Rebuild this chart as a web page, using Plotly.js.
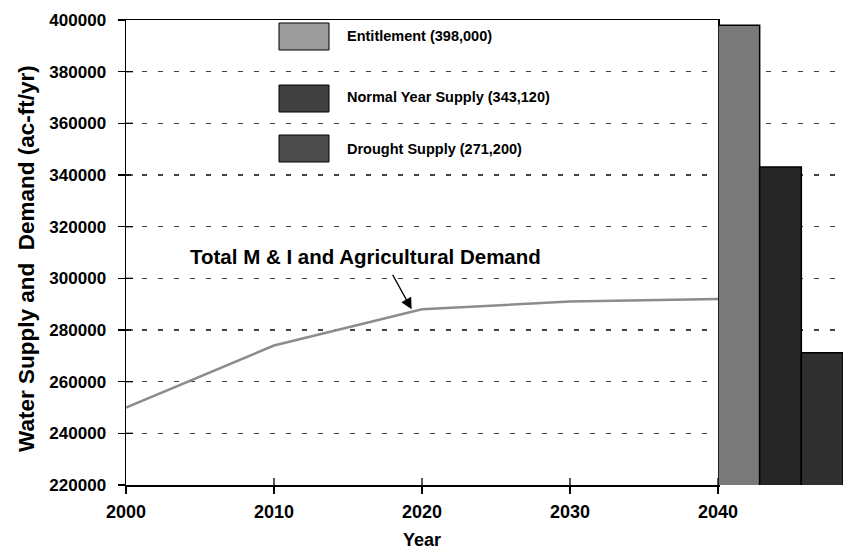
<!DOCTYPE html>
<html>
<head>
<meta charset="utf-8">
<script src="https://cdn.plot.ly/plotly-3.0.1.min.js"></script>
<style>
  html, body { margin: 0; padding: 0; background: #fff; }
  #chart { width: 843px; height: 552px; }
</style>
</head>
<body>
<div id="chart"></div>
<script>
// Demand projection (ac-ft/yr)
const years = [2000, 2010, 2020, 2030, 2040];
const demand = [250000, 274000, 288000, 291000, 292000];

// Supply levels
const supplyNames = ['Entitlement', 'Normal Year Supply', 'Drought Supply'];
const supplyValues = [398000, 343120, 271200];

const yTicks = [220000, 240000, 260000, 280000, 300000, 320000, 340000, 360000, 380000, 400000];
const xTicks = [2000, 2010, 2020, 2030, 2040];

const FONT = 'Liberation Sans, Arial, sans-serif';
const W = 843, H = 552;
const M = { l: 126, r: 0, t: 20, b: 67 };
const plotW = W - M.l - M.r, plotH = H - M.t - M.b;
const px2x = p => (p - M.l) / plotW;
const px2y = p => (H - M.b - p) / plotH;
const lineDomainEnd = px2x(718);

const barFill = ['#7a7a7a', '#262626', '#303030'];
const swatchFill = ['#9c9c9c', '#404040', '#4c4c4c'];

const fmt = v => v.toLocaleString('en-US');

const traces = [
  {
    x: years, y: demand, xaxis: 'x', yaxis: 'y',
    type: 'scatter', mode: 'lines',
    line: { color: '#8c8c8c', width: 2.5 },
    showlegend: false, hoverinfo: 'skip'
  },
  {
    x: supplyNames, y: supplyValues, xaxis: 'x2', yaxis: 'y',
    type: 'bar',
    marker: { color: barFill, line: { color: '#000', width: 1.5 } },
    showlegend: false, hoverinfo: 'skip'
  }
];

const shapes = [];
const annotations = [];

// Tick marks reaching into the plot area (ticks cross the axis lines)
yTicks.slice(1, -1).forEach(v => {
  shapes.push({
    type: 'line', xref: 'paper', yref: 'y',
    x0: 0, x1: px2x(133), y0: v, y1: v,
    line: { color: '#000', width: 1.3 }
  });
});
xTicks.slice(1).forEach(v => {
  shapes.push({
    type: 'line', xref: 'x', yref: 'paper',
    x0: v, x1: v, y0: 0, y1: px2y(478),
    line: { color: '#000', width: 1.3 }
  });
});

// Legend swatches and labels
const swatchTop = [23, 85, 135];
const labelY = [36, 97, 149];
supplyNames.forEach((name, i) => {
  shapes.push({
    type: 'rect', xref: 'paper', yref: 'paper',
    x0: px2x(279), x1: px2x(329),
    y0: px2y(swatchTop[i] + 27), y1: px2y(swatchTop[i]),
    fillcolor: swatchFill[i], line: { color: '#000', width: 1 }
  });
  annotations.push({
    xref: 'paper', yref: 'paper', x: px2x(345), y: px2y(labelY[i]),
    xanchor: 'left', yanchor: 'middle', showarrow: false,
    text: name + ' (' + fmt(supplyValues[i]) + ')',
    font: { family: FONT, size: 14.5, weight: 'bold', color: '#000' }
  });
});

// Y axis title
annotations.push({
  xref: 'paper', yref: 'paper', x: px2x(26), y: px2y(259),
  xanchor: 'center', yanchor: 'middle', showarrow: false, textangle: -90,
  text: 'Water Supply and  Demand (ac-ft/yr)',
  font: { family: FONT, size: 22.5, weight: 'bold', color: '#000' }
});

// Demand curve label with pointer
annotations.push({
  xref: 'paper', yref: 'paper', x: px2x(365), y: px2y(256),
  xanchor: 'center', yanchor: 'middle', showarrow: false,
  text: 'Total M & I and Agricultural Demand',
  font: { family: FONT, size: 20.5, weight: 'bold', color: '#000' }
});
annotations.push({
  xref: 'x', yref: 'y', x: 2019.3, y: 288000,
  axref: 'pixel', ayref: 'pixel', ax: -22, ay: -40,
  text: ' ', showarrow: true,
  arrowhead: 2, arrowsize: 1.6, arrowwidth: 1.4, arrowcolor: '#000'
});

const layout = {
  width: W, height: H,
  margin: M,
  paper_bgcolor: '#fff', plot_bgcolor: 'rgba(0,0,0,0)',
  showlegend: false,
  bargap: 0,
  xaxis: {
    domain: [0, lineDomainEnd], range: [2000, 2040],
    tickvals: xTicks, ticktext: xTicks.map(String),
    ticks: 'outside', ticklen: 7, tickwidth: 1.3, tickcolor: '#000',
    showline: true, linecolor: '#000', linewidth: 1.5, mirror: true,
    showgrid: false, zeroline: false,
    tickfont: { family: FONT, size: 18, weight: 'bold', color: '#000' }, ticklabelstandoff: 3,
    title: { text: 'Year', font: { family: FONT, size: 18, weight: 'bold', color: '#000' }, standoff: 12 }
  },
  xaxis2: {
    domain: [lineDomainEnd, 1], anchor: 'y', type: 'category',
    visible: false, fixedrange: true
  },
  yaxis: {
    range: [220000, 400000],
    tickvals: yTicks, ticktext: yTicks.map(String),
    ticks: 'outside', ticklen: 7, tickwidth: 1.3, tickcolor: '#000',
    showline: true, linecolor: '#000', linewidth: 1.5, mirror: true,
    showgrid: true, gridcolor: '#444', gridwidth: 1.2, griddash: '5px,11px',
    zeroline: false,
    tickfont: { family: FONT, size: 17, weight: 'bold', color: '#000' }, ticklabelstandoff: 8
  },
  shapes: shapes,
  annotations: annotations
};

Plotly.newPlot('chart', traces, layout, { staticPlot: true, displayModeBar: false });
</script>
</body>
</html>
